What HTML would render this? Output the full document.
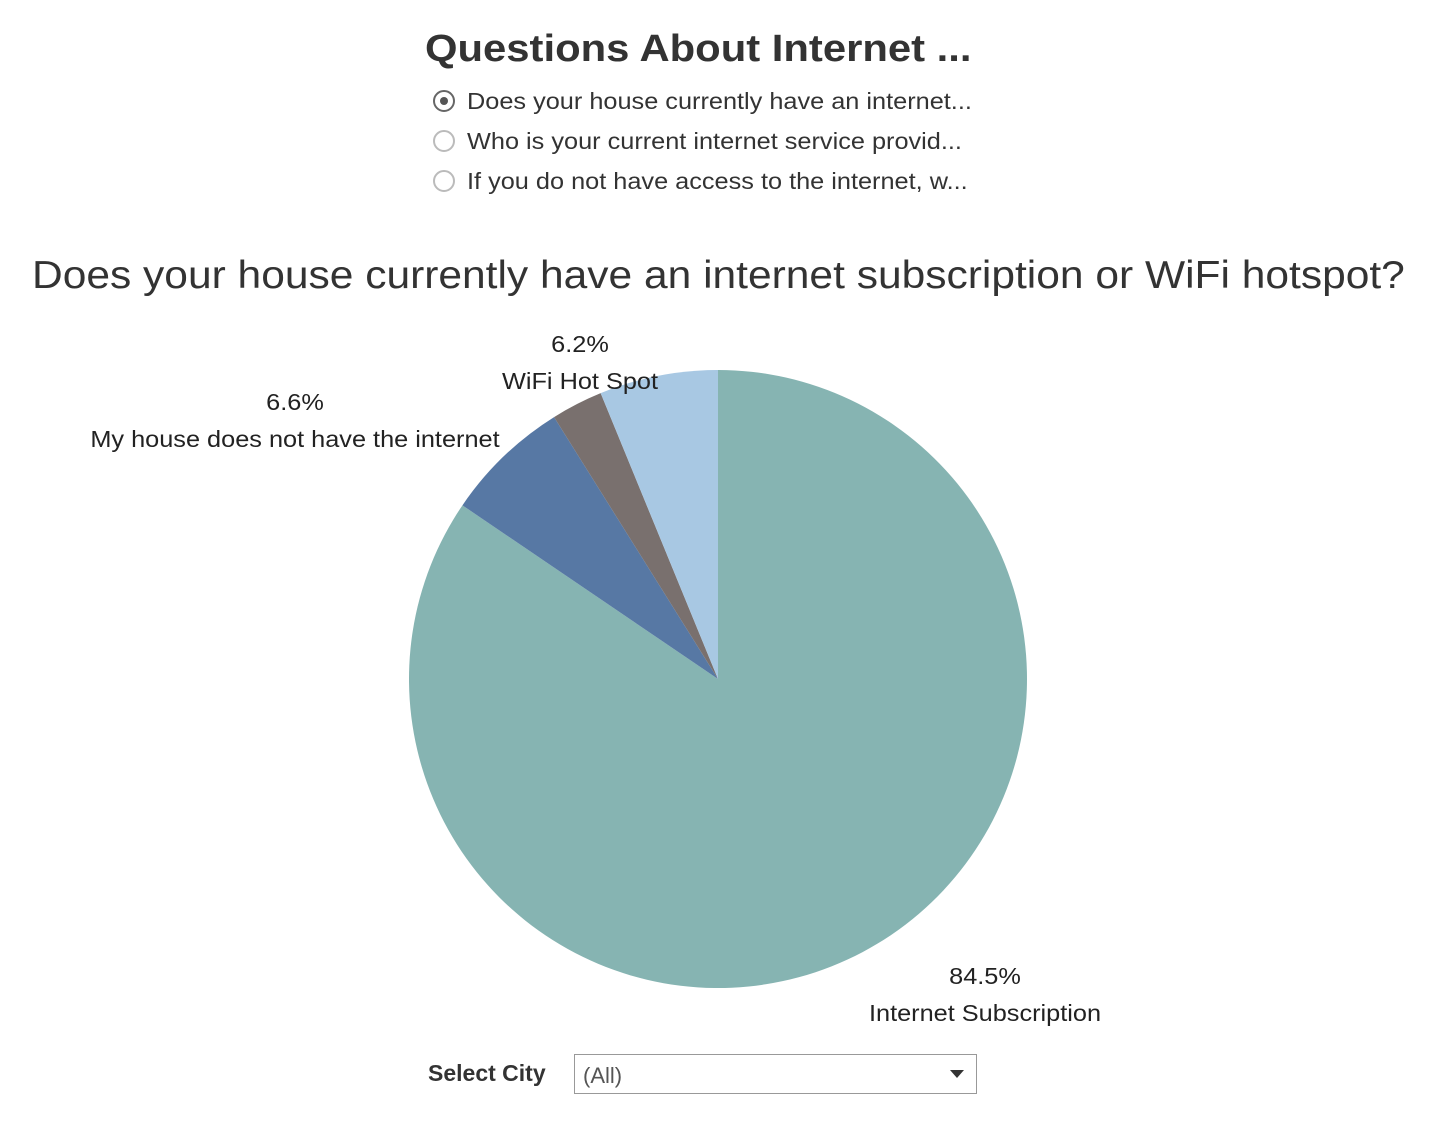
<!DOCTYPE html>
<html><head><meta charset="utf-8"><style>
body{margin:0;width:1438px;height:1140px;background:#fff;font-family:"Liberation Sans",sans-serif;color:#333;position:relative;overflow:hidden}
.t{position:absolute;white-space:nowrap;transform-origin:0 0;transform:scaleX(1.1)}
.radio{position:absolute;width:22px;height:22px;border:2px solid #bbb;border-radius:50%;box-sizing:border-box;background:#fff}
</style></head><body>
<div class="t" style="left:425px;top:28px;font-size:38px;font-weight:bold;color:#333">Questions About Internet ...</div>
<div class="radio" style="left:433px;top:90px;border-color:#666"><div style="position:absolute;left:5px;top:5px;width:8px;height:8px;border-radius:50%;background:#555"></div></div>
<div class="t" style="left:467px;top:88px;font-size:23px">Does your house currently have an internet...</div>
<div class="radio" style="left:433px;top:130px"></div>
<div class="t" style="left:467px;top:128px;font-size:23px">Who is your current internet service provid...</div>
<div class="radio" style="left:433px;top:170px"></div>
<div class="t" style="left:467px;top:168px;font-size:23px">If you do not have access to the internet, w...</div>
<div class="t" style="left:32px;top:254px;font-size:39px;color:#333;transform:scaleX(1.09)">Does your house currently have an internet subscription or WiFi hotspot?</div>
<svg id="pie" width="1438" height="1140" style="position:absolute;left:0;top:0"></svg>
<div class="t" style="left:428px;top:1060px;font-size:23px;font-weight:bold;transform:scaleX(1.0)">Select City</div>
<div style="position:absolute;left:574px;top:1054px;width:403px;height:40px;border:1px solid #999;box-sizing:border-box">
<span style="position:absolute;left:8px;top:8px;font-size:22px;color:#555">(All)</span>
<span style="position:absolute;right:12px;top:15px;width:0;height:0;border-left:7px solid transparent;border-right:7px solid transparent;border-top:8px solid #333"></span></div>
<script>
const categories=["Internet Subscription","My house does not have the internet","Other","WiFi Hot Spot"];
const values=[84.5,6.6,2.7,6.2];
const colors=["#86b4b2","#5778a4","#79706e","#a8c8e3"];
const showLabel=[true,true,false,true];
const svg=document.getElementById('pie');
const ns="http://www.w3.org/2000/svg";
const cx=718,cy=679,r=309;
const total=values.reduce((a,b)=>a+b,0);
function pt(a){return [cx+r*Math.sin(a),cy-r*Math.cos(a)];}
let acc=0;
values.forEach((v,i)=>{
 const a0=acc/total*2*Math.PI;acc+=v;const a1=acc/total*2*Math.PI;
 const p0=pt(a0),p1=pt(a1);
 const p=document.createElementNS(ns,'path');
 p.setAttribute('d',`M${cx},${cy}L${p0[0]},${p0[1]}A${r},${r} 0 ${a1-a0>Math.PI?1:0} 1 ${p1[0]},${p1[1]}Z`);
 p.setAttribute('fill',colors[i]);
 
 
 svg.appendChild(p);
});
const labelPos=[[985,984],[295,410],null,[580,352]];
values.forEach((v,i)=>{
 if(!showLabel[i])return;
 [[v.toFixed(1)+'%',0],[categories[i],37]].forEach(([s,dy],k)=>{
  const t=document.createElementNS(ns,'text');
  t.setAttribute('x',labelPos[i][0]);t.setAttribute('y',labelPos[i][1]+dy);
  t.setAttribute('text-anchor','middle');t.setAttribute('font-size','23');t.setAttribute('fill','#222');
  t.setAttribute('font-family','Liberation Sans, sans-serif');
  t.textContent=s;
  
  
  svg.appendChild(t);
  const w=t.getComputedTextLength();
  t.setAttribute('textLength',w*1.1);
  t.setAttribute('lengthAdjust','spacingAndGlyphs');
 });
});
</script>
</body></html>
